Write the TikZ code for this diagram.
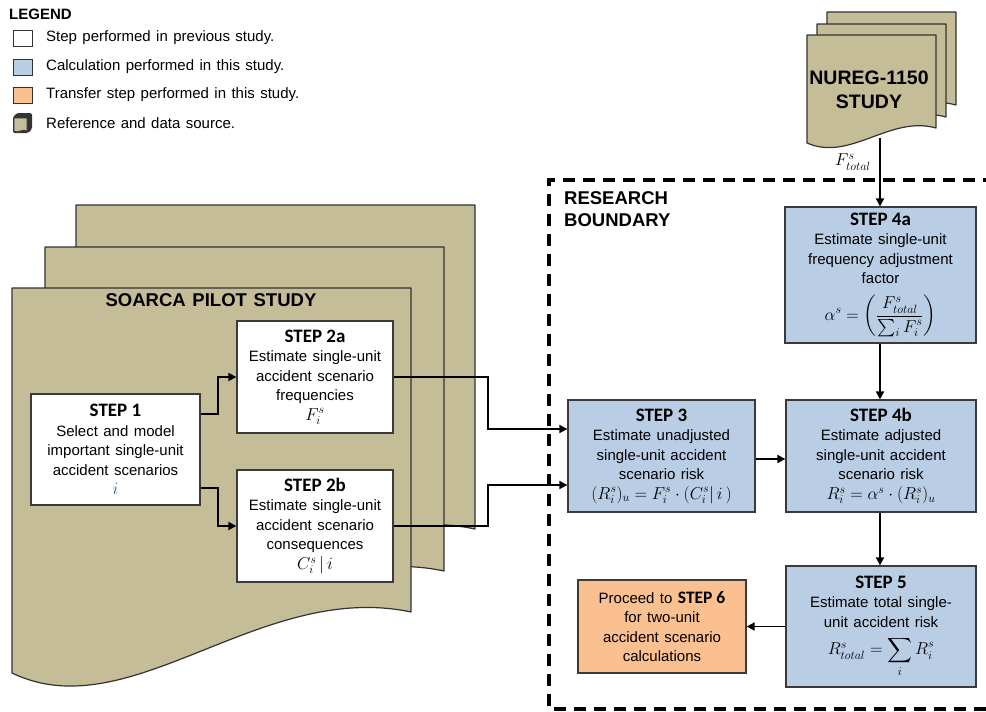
\documentclass[tikz,border=0pt]{standalone}
\usepackage{amsmath}
\usepackage{fontspec}
\setmainfont{Liberation Sans}[WordSpace=1.3]
\newfontfamily\stepfont{Carlito}
\usetikzlibrary{arrows.meta}

\definecolor{tan}{HTML}{C4BD97}
\definecolor{calcblue}{HTML}{B9CDE5}
\definecolor{transferorange}{HTML}{FAC090}
\definecolor{boxline}{HTML}{3A3A3A}
\definecolor{pageline}{HTML}{333333}
\definecolor{mathblue}{HTML}{2F5597}

\newcommand\steptitle[1]{{\stepfont\bfseries\fontsize{19}{20}\selectfont #1}}
\newcommand\formula[1]{{\fontsize{17}{20}\selectfont $#1$}}

\tikzset{
  stepbox/.style={draw=boxline, line width=1.3pt, align=center, inner sep=2pt,
    font=\fontsize{15}{19.5}\selectfont},
  prevbox/.style={stepbox, fill=white},
  calcbox/.style={stepbox, fill=calcblue},
  transferbox/.style={stepbox, fill=transferorange},
  page/.style={draw=pageline, fill=tan, line width=1.2pt, line join=round},
  arr/.style={line width=1.8pt, -{Triangle[length=8pt,width=8pt]}},
  boundary/.style={line width=3.5pt, dash pattern=on 12pt off 8pt},
  legkey/.style={draw=pageline, line width=1pt, minimum width=19pt, minimum height=16pt, inner sep=0pt},
  legtext/.style={anchor=west, inner sep=0pt, font=\fontsize{15}{18}\selectfont},
  heading/.style={font=\bfseries\fontsize{18.5}{22}\selectfont, inner sep=0pt},
}

\begin{document}
\begin{tikzpicture}[x=1pt,y=-1pt]
\useasboundingbox (0,0) rectangle (986,712);
\fill[white] (0,0) rectangle (986,712);

% ---------- legend ----------
\node[anchor=west, inner sep=0pt, font=\bfseries\fontsize{15}{18}\selectfont] (legtitle) at (9,14) {LEGEND};
\node[legkey, fill=white] (k1) at (22.5,38.5) {};
\node[legkey, fill=calcblue] (k2) at (22.5,67) {};
\node[legkey, fill=transferorange] (k3) at (22.5,95) {};
\fill[pageline, rounded corners=1.5pt] (13,117) -- (17,113) -- (32,113) -- (32,129) -- (28,133) -- (13,133) -- cycle;
\filldraw[fill=tan, draw=pageline, line width=0.6pt] (14,118) -- (27,118) -- (27,131) .. controls (22,128) and (18,134) .. (14,131) -- cycle;
\node[legtext] (t1) at (46,38) {Step performed in previous study.};
\node[legtext] (t2) at (46,66.5) {Calculation performed in this study.};
\node[legtext] (t3) at (46,95) {Transfer step performed in this study.};
\node[legtext] (t4) at (46,123) {Reference and data source.};

% ---------- SOARCA document stack ----------
\foreach \dx/\dy in {64/-83, 33/-41, 0/0}
  \draw[page, shift={(\dx,\dy)}] (12,288) -- (411,288) -- (411,612)
     .. controls (260,580) and (130,730) .. (12,673) -- cycle;
\node[heading] (soarca) at (211,300) {SOARCA PILOT STUDY};

% ---------- NUREG document stack ----------
\foreach \dx/\dy in {20/-23, 10/-11, 0/0}
  \draw[page, shift={(\dx,\dy)}] (807,35) -- (936,35) -- (936,128)
     .. controls (890,115) and (850,162) .. (807,143) -- cycle;
\node[align=center, inner sep=0pt, font=\bfseries\fontsize{19.5}{24}\selectfont] (nureg) at (869,90) {NUREG-1150\\STUDY};
\coordinate (nuregout) at (880,138);
\node[inner sep=0pt] (ftotal) at (853,162) {\formula{F^{s}_{total}}};

% ---------- research boundary ----------
\draw[boundary] (995,180) -- (549,180) -- (549,709) -- (995,709);
\node[heading, anchor=west, align=left] (rb) at (564,209) {RESEARCH\\BOUNDARY};

% ---------- steps ----------
\node[prevbox, minimum width=169pt, minimum height=111pt] (s1) at (115.5,449.5)
  {\steptitle{STEP 1}\\Select and model\\important single-unit\\accident scenarios\\\textcolor{mathblue}{\formula{i}}};
\node[prevbox, minimum width=156pt, minimum height=112pt] (s2a) at (315,377)
  {\steptitle{STEP 2a}\\Estimate single-unit\\accident scenario\\frequencies\\\formula{F^{s}_{i}}};
\node[prevbox, minimum width=156pt, minimum height=112pt] (s2b) at (315,526)
  {\steptitle{STEP 2b}\\Estimate single-unit\\accident scenario\\consequences\\\formula{C^{s}_{i}\,|\,i}};
\node[calcbox, minimum width=187pt, minimum height=112pt] (s3) at (661.5,456)
  {\steptitle{STEP 3}\\Estimate unadjusted\\single-unit accident\\scenario risk\\\formula{(R^{s}_{i})_{u}=F^{s}_{i}\cdot(C^{s}_{i}|\,i\,)}};
\node[calcbox, minimum width=191pt, minimum height=136pt] (s4a) at (880.5,275)
  {\steptitle{STEP 4a}\\Estimate single-unit\\frequency adjustment\\factor\\[10pt]\formula{\alpha^{s}=\left(\dfrac{F^{s}_{total}}{\textstyle\sum_{i}F^{s}_{i}}\right)}};
\node[calcbox, minimum width=190pt, minimum height=112pt] (s4b) at (881,456)
  {\steptitle{STEP 4b}\\Estimate adjusted\\single-unit accident\\scenario risk\\\formula{R^{s}_{i}=\alpha^{s}\cdot(R^{s}_{i})_{u}}};
\node[calcbox, minimum width=190pt, minimum height=121pt] (s5) at (881,626.5)
  {\steptitle{STEP 5}\\Estimate total single-\\unit accident risk\\[8pt]\formula{R^{s}_{total}=\displaystyle\sum_{i}R^{s}_{i}}};
\node[transferbox, minimum width=168pt, minimum height=93pt] (s6) at (662,626.5)
  {Proceed to {\stepfont\bfseries\fontsize{17.5}{19.5}\selectfont STEP 6}\\for two-unit\\accident scenario\\calculations};

% ---------- connectors ----------
\draw[arr] ([yshift=35.5pt]s1.east) -- ++(17,0) |- (s2a.west);
\draw[arr] ([yshift=-38.5pt]s1.east) -- ++(17,0) |- (s2b.west);
\draw[arr] (s2a.east) -- ++(94,0) |- ([yshift=27pt]s3.west);
\draw[arr] (s2b.east) -- ++(94,0) |- ([yshift=-29pt]s3.west);
\draw[arr] ([yshift=-3pt]s3.east) -- ([yshift=-3pt]s4b.west);
\draw[arr] (nuregout) -- (nuregout |- s4a.north);
\draw[arr] (s4a.south -| nuregout) -- (s4b.north -| nuregout);
\draw[arr] (s4b.south -| nuregout) -- (s5.north -| nuregout);
\draw[arr] (s5.west) -- (s6.east);
\end{tikzpicture}
\end{document}
